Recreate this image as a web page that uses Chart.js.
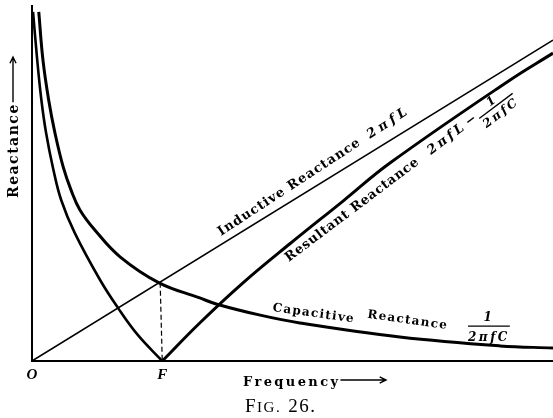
<!DOCTYPE html>
<html>
<head>
<meta charset="utf-8">
<script src="https://cdn.jsdelivr.net/npm/chart.js@4.4.0/dist/chart.umd.min.js"></script>
<style>
  html, body { margin: 0; padding: 0; background: #fff; }
  canvas { display: block; }
</style>
</head>
<body>
<canvas id="fig" width="553" height="418"></canvas>
<script>
// frequency runs 0..10 (arbitrary units), resonance F sits at 2.5
const inductiveF = [0, 10];
const inductiveX = [0, 6.16];

const capacitiveF = [0.13, 0.21, 0.32, 0.44, 0.60, 0.75, 0.92, 1.21, 1.69, 2.44, 3.22, 3.55, 4.38, 5.14, 7.06, 8.98, 10];
const capacitiveX = [6.70, 5.78, 5.01, 4.38, 3.72, 3.28, 2.90, 2.51, 2.00, 1.50, 1.21, 1.09, 0.88, 0.73, 0.46, 0.29, 0.25];

// resultant |XL - XC|, drawn as two branches meeting at F
const resultLeftF = [0.02, 0.10, 0.18, 0.27, 0.40, 0.56, 0.82, 1.31, 1.65, 2.03, 2.50];
const resultLeftX = [6.70, 5.78, 5.01, 4.38, 3.72, 3.09, 2.46, 1.55, 1.02, 0.50, 0];
const resultRightF = [2.50, 3.22, 4.05, 4.95, 5.97, 6.87, 9.17, 10];
const resultRightX = [0, 0.73, 1.50, 2.25, 3.07, 3.80, 5.39, 5.91];

const dropF = [2.46, 2.50];
const dropX = [1.50, 0];

const pts = (fs, xs) => fs.map((f, i) => ({ x: f, y: xs[i] }));

const SERIF = '"DejaVu Serif"';

function say(ctx, s, x0, y0, deg, font, spacing, align) {
    ctx.save();
    ctx.translate(x0, y0);
    ctx.rotate(deg * Math.PI / 180);
    ctx.font = font;
    ctx.letterSpacing = spacing || '0px';
    ctx.textAlign = align || 'left';
    ctx.textBaseline = 'alphabetic';
    ctx.fillText(s, 0, 0);
    const w = ctx.measureText(s).width;
    ctx.restore();
    return w;
}

// numerator over a bar over denominator, centred on cx
function fraction(ctx, num, den, cx, barY, font, spacing, numDy, denDy) {
    ctx.font = font;
    ctx.letterSpacing = spacing;
    const w = ctx.measureText(den).width;
    ctx.textAlign = 'center';
    ctx.fillText(num, cx, barY + numDy);
    ctx.fillText(den, cx, barY + denDy);
    ctx.lineWidth = 1.3;
    ctx.beginPath();
    ctx.moveTo(cx - w / 2, barY);
    ctx.lineTo(cx + w / 2, barY);
    ctx.stroke();
}

function arrow(ctx, x1, y1, x2, y2) {
    const a = Math.atan2(y2 - y1, x2 - x1);
    ctx.lineWidth = 1.4;
    ctx.beginPath();
    ctx.moveTo(x1, y1);
    ctx.lineTo(x2, y2);
    ctx.moveTo(x2 - 7 * Math.cos(a - 0.45), y2 - 7 * Math.sin(a - 0.45));
    ctx.lineTo(x2, y2);
    ctx.lineTo(x2 - 7 * Math.cos(a + 0.45), y2 - 7 * Math.sin(a + 0.45));
    ctx.stroke();
}

const annotate = {
    id: 'annotate',
    beforeDatasetsDraw(chart) {
        const { ctx, chartArea, scales: { x, y } } = chart;
        ctx.save();
        ctx.strokeStyle = '#000';
        ctx.lineWidth = 2;
        ctx.beginPath();
        ctx.moveTo(x.getPixelForValue(0), chartArea.top - 2);
        ctx.lineTo(x.getPixelForValue(0), y.getPixelForValue(0));
        ctx.lineTo(chartArea.right, y.getPixelForValue(0));
        ctx.stroke();
        ctx.restore();
    },
    afterDatasetsDraw(chart) {
        const { ctx, scales: { x, y } } = chart;
        const px = v => x.getPixelForValue(v);
        const py = v => y.getPixelForValue(v);
        ctx.save();
        ctx.fillStyle = '#000';
        ctx.strokeStyle = '#000';

        // inductive label sits just above its line
        const indDeg = Math.atan2(py(inductiveX[1]) - py(0), px(10) - px(0)) * 180 / Math.PI - 1.5;
        const w1 = say(ctx, 'Inductive Reactance', px(3.63), py(2.40), indDeg, 'bold 13px ' + SERIF, '1px');
        ctx.save();
        ctx.translate(px(3.63), py(2.40));
        ctx.rotate(indDeg * Math.PI / 180);
        ctx.font = 'bold italic 13px ' + SERIF;
        ctx.letterSpacing = '4px';
        ctx.fillText('2πfL', w1 + 10, 0);
        ctx.restore();

        // resultant label below the thick line
        const resDeg = -37;
        const w2 = say(ctx, 'Resultant Reactance', px(4.93), py(1.90), resDeg, 'bold 13px ' + SERIF, '0.7px');
        ctx.save();
        ctx.translate(px(4.93), py(1.90));
        ctx.rotate(resDeg * Math.PI / 180);
        ctx.font = 'bold italic 13px ' + SERIF;
        ctx.letterSpacing = '3px';
        const f0 = w2 + 14;
        const wf = ctx.measureText('2πfL').width;
        ctx.fillText('2πfL', f0, 0);
        ctx.font = 'bold 13px ' + SERIF;
        ctx.letterSpacing = '0px';
        ctx.fillText('−', f0 + wf + 2, 0);
        fraction(ctx, '1', '2πfC', f0 + wf + 36, 0, 'bold italic 12px ' + SERIF, '2.5px', -3, 12);
        ctx.restore();

        // capacitive label follows the curve
        say(ctx, 'Capacitive', px(4.61), py(0.96), 8, 'bold 12px ' + SERIF, '1.3px');
        say(ctx, 'Reactance', px(6.43), py(0.83), 8, 'bold 12px ' + SERIF, '1.3px');
        fraction(ctx, '1', '2πfC', px(8.77), py(0.67), 'bold italic 12px ' + SERIF, '2.5px', -5, 15);

        // origin and resonance marks
        say(ctx, 'O', px(0), py(0) + 18, 0, 'bold italic 15px "Liberation Serif"', '0px', 'center');
        say(ctx, 'F', px(2.5), py(0) + 18, 0, 'bold italic 15px "Liberation Serif"', '0px', 'center');

        // axis titles
        const wq = say(ctx, 'Frequency', 243, 386, 0, 'bold 13px ' + SERIF, '2.4px');
        arrow(ctx, 243 + wq, 380, 386, 380);
        const wr = say(ctx, 'Reactance', 18, 198, -90, 'bold 14px ' + SERIF, '1.5px');
        arrow(ctx, 13, 198 - wr - 1, 13, 57);

        // caption
        ctx.letterSpacing = '1.5px';
        ctx.textAlign = 'left';
        let cx = 245;
        ctx.font = '19px "Liberation Serif"';
        ctx.fillText('F', cx, 412);
        cx += ctx.measureText('F').width;
        ctx.font = '15px "Liberation Serif"';
        ctx.fillText('IG.', cx, 412);
        cx += ctx.measureText('IG.').width + 7;
        ctx.font = '19px "Liberation Serif"';
        ctx.fillText('26.', cx, 412);

        ctx.restore();
    }
};

const line = (data, width, extra) => Object.assign({
    data,
    borderColor: '#000',
    borderWidth: width,
    pointRadius: 0,
    fill: false,
    tension: 0.4
}, extra || {});

new Chart(document.getElementById('fig'), {
    type: 'line',
    data: {
        datasets: [
            line(pts(inductiveF, inductiveX), 1.6, { tension: 0 }),
            line(pts(capacitiveF, capacitiveX), 3),
            line(pts(resultLeftF, resultLeftX), 2.6),
            line(pts(resultRightF, resultRightX), 3),
            line(pts(dropF, dropX), 1.2, { borderDash: [5, 3], tension: 0 })
        ]
    },
    options: {
        responsive: false,
        devicePixelRatio: 1,
        animation: false,
        layout: { padding: { left: 32, right: 0, top: 7, bottom: 57 } },
        plugins: { legend: { display: false }, tooltip: { enabled: false } },
        scales: {
            x: { type: 'linear', min: 0, max: 10, display: false },
            y: { type: 'linear', min: 0, max: 6.795, display: false }
        }
    },
    plugins: [annotate]
});
</script>
</body>
</html>
